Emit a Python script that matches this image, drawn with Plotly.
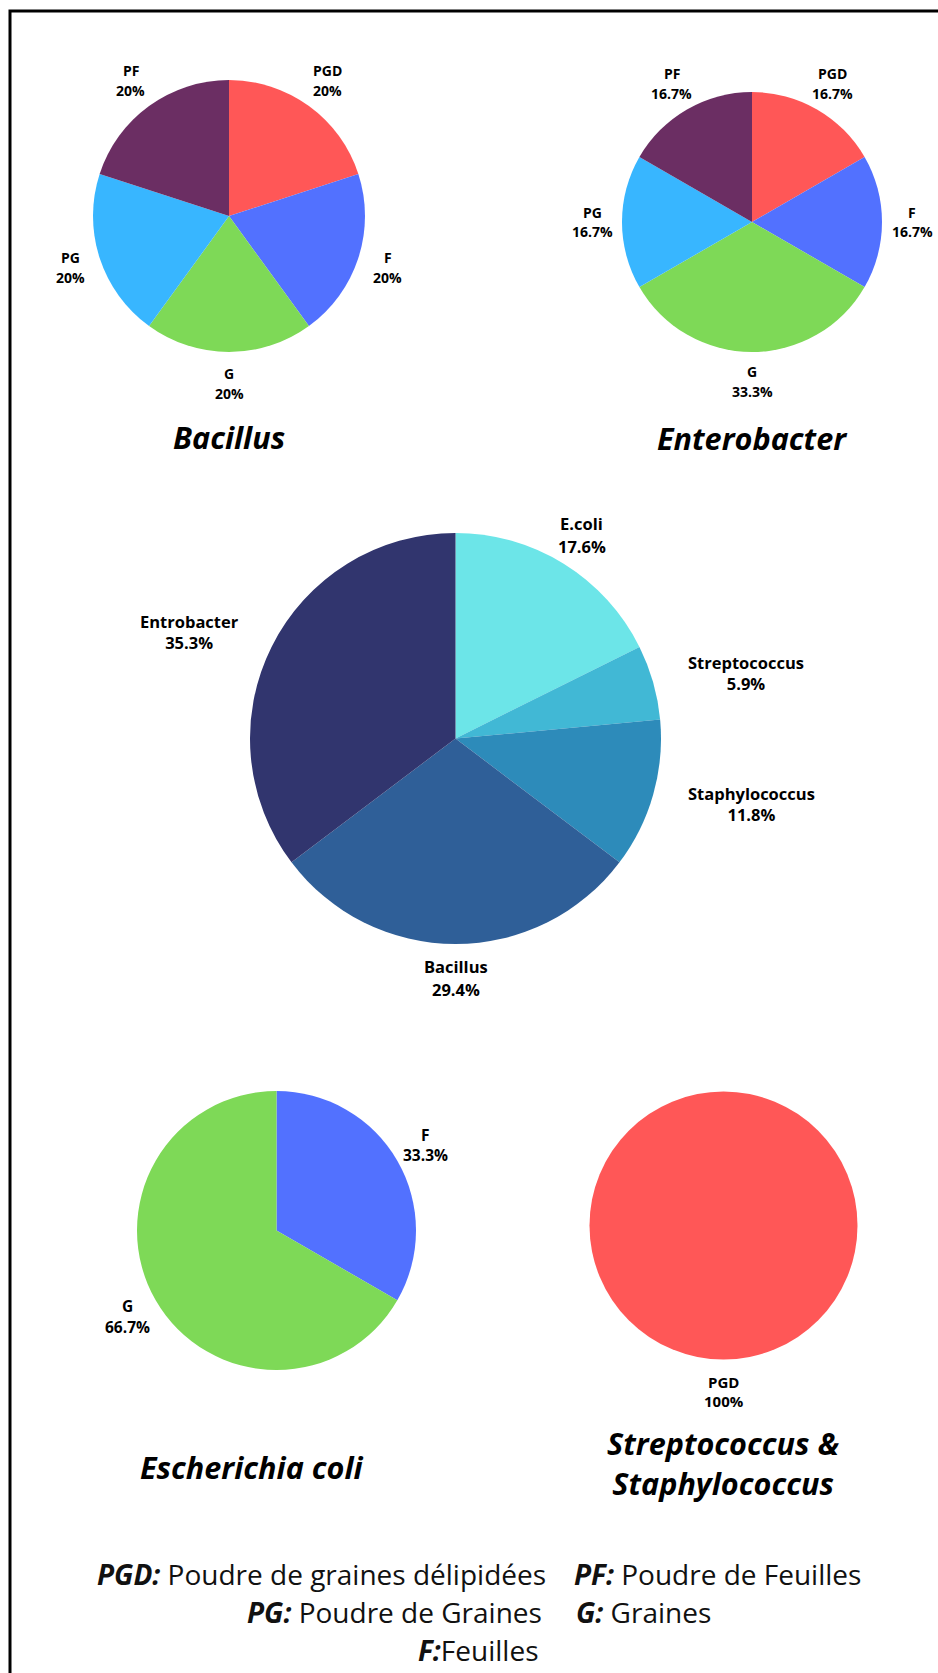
import math
import plotly.graph_objects as go

W, H = 938, 1673

# ---------------- data ----------------
source_colors = {"PGD": "#FF5757", "F": "#5271FF", "G": "#7ED957", "PG": "#38B6FF", "PF": "#6B2E63"}

bacillus_labels = ["PGD", "F", "G", "PG", "PF"]
bacillus_counts = [1, 1, 1, 1, 1]

entero_labels = ["PGD", "F", "G", "PG", "PF"]
entero_counts = [1, 1, 2, 1, 1]

genus_labels = ["E.coli", "Streptococcus", "Staphylococcus", "Bacillus", "Entrobacter"]
genus_counts = [3, 1, 2, 5, 6]
genus_colors = ["#6CE5E8", "#41B8D5", "#2D8BBA", "#2F5F98", "#31356E"]

ecoli_labels = ["F", "G"]
ecoli_counts = [1, 2]

strep_labels = ["PGD"]
strep_counts = [1]

titles = ["Bacillus", "Enterobacter", "Escherichia coli", "Streptococcus &<br>Staphylococcus"]

legend_left = ["<b><i>PGD:</i></b> Poudre de graines délipidées",
               "<b><i>PG:</i></b> Poudre de Graines",
               "<b><i>F:</i></b>Feuilles"]
legend_right = ["<b><i>PF:</i></b> Poudre de Feuilles",
                "<b><i>G:</i></b> Graines"]

FONT = "Open Sans"


def dom(cx, cy, r):
    return dict(x=[(cx - r) / W, (cx + r) / W], y=[1 - (cy + r) / H, 1 - (cy - r) / H])


def px(x, y):
    return x / W, 1 - y / H


def pct_text(v, total):
    s = f"{100 * v / total:.1f}"
    if s.endswith(".0"):
        s = s[:-2]
    return s + "%"


fig = go.Figure()
annotations = []


def add_pie(labels, values, colors, cx, cy, r, size, gap, linegap):
    fig.add_trace(go.Pie(
        labels=labels, values=values, sort=False, direction="clockwise", rotation=0,
        marker=dict(colors=colors, line=dict(width=0)),
        textinfo="none", domain=dom(cx, cy, r), showlegend=False,
        hoverinfo="label+percent",
    ))
    total = sum(values)
    cum = 0
    for lab, v in zip(labels, values):
        mid = (cum + v / 2) / total * 2 * math.pi
        cum += v
        dx, dy = math.sin(mid), -math.cos(mid)
        D = r + gap
        x, y = cx + dx * D, cy + dy * D
        pct = pct_text(v, total)
        font = dict(family=FONT, size=size, color="black")
        if len(lab) > 8 and abs(dx) > 0.8:
            # long labels on the sides: anchored by their near edge, lines centred
            ax, ay = px(x, y)
            annotations.append(dict(text="<b>" + lab + "</b><br><b>" + pct + "</b>", x=ax, y=ay,
                                    xref="paper", yref="paper", align="center",
                                    xanchor="left" if dx > 0 else "right", yanchor="middle",
                                    showarrow=False, font=font))
        else:
            for txt, yy in ((lab, y - linegap / 2), (pct, y + linegap / 2)):
                ax, ay = px(x, yy)
                annotations.append(dict(text="<b>" + txt + "</b>", x=ax, y=ay, xref="paper", yref="paper",
                                        xanchor="center", yanchor="middle", showarrow=False, font=font))


add_pie(bacillus_labels, bacillus_counts, [source_colors[l] for l in bacillus_labels],
        229, 216, 136, 14, 31, 20)
add_pie(entero_labels, entero_counts, [source_colors[l] for l in entero_labels],
        752, 222, 130, 14, 30, 20)
add_pie(genus_labels, genus_counts, genus_colors,
        455.5, 738.5, 205.5, 16.5, 34, 22.5)
add_pie(ecoli_labels, ecoli_counts, [source_colors[l] for l in ecoli_labels],
        276.5, 1230.5, 139.5, 15.5, 32, 20.5)
add_pie(strep_labels, strep_counts, [source_colors[l] for l in strep_labels],
        723.5, 1225.5, 134, 15, 32, 19.5)

title_pos = [(229, 437), (752, 438), (252, 1467), (723, 1463)]
for t, (x, y) in zip(titles, title_pos):
    ax, ay = px(x, y)
    annotations.append(dict(text="<b><i>" + t + "</i></b>", x=ax, y=ay, xref="paper", yref="paper",
                            xanchor="center", yanchor="middle", showarrow=False,
                            font=dict(family=FONT, size=30.6, color="black", weight=800)))

left_pos = [(548, 1574), (544, 1612), (540, 1650)]
for t, (x, y) in zip(legend_left, left_pos):
    ax, ay = px(x, y)
    annotations.append(dict(text=t, x=ax, y=ay, xref="paper", yref="paper",
                            xanchor="right", yanchor="middle", showarrow=False,
                            font=dict(family=FONT, size=28, color="#111111")))
right_pos = [(572, 1574), (574, 1612)]
for t, (x, y) in zip(legend_right, right_pos):
    ax, ay = px(x, y)
    annotations.append(dict(text=t, x=ax, y=ay, xref="paper", yref="paper",
                            xanchor="left", yanchor="middle", showarrow=False,
                            font=dict(family=FONT, size=28, color="#111111")))

fig.update_layout(
    width=W, height=H, autosize=False,
    margin=dict(l=0, r=0, t=0, b=0),
    paper_bgcolor="white", plot_bgcolor="white",
    annotations=annotations,
    shapes=[dict(type="rect", xref="paper", yref="paper",
                 x0=10 / W, x1=1.05, y0=-0.05, y1=1 - 11 / H,
                 line=dict(color="black", width=3), fillcolor="rgba(0,0,0,0)")],
)

fig.write_html("out.html")
